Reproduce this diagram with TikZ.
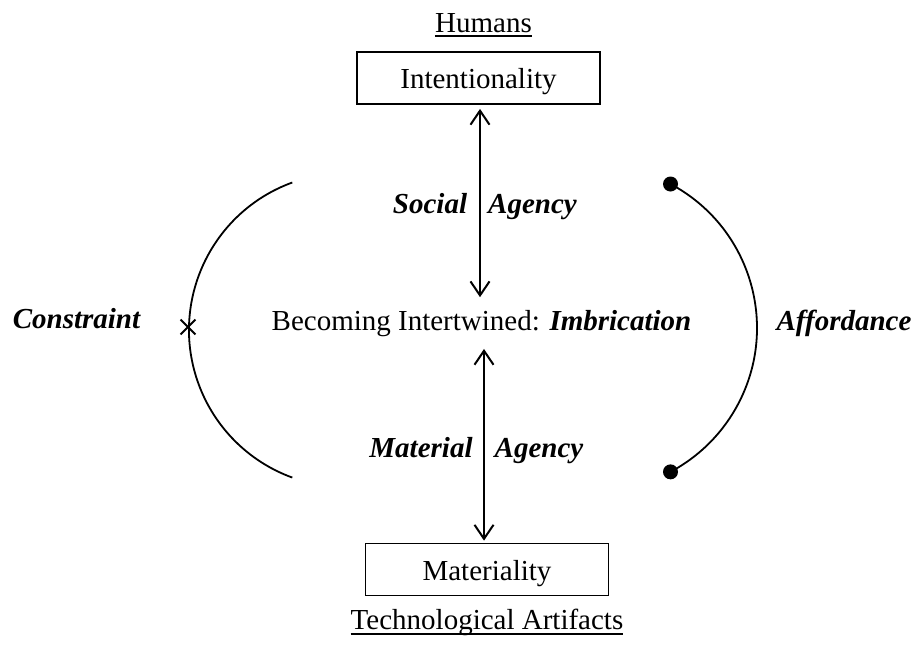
\documentclass[tikz,border=0pt]{standalone}
\usepackage{fontspec}
\setmainfont{Liberation Serif}
\usetikzlibrary{arrows.meta,calc,shapes.misc}
\begin{document}
\begin{tikzpicture}[x=1pt,y=-1pt,
  every node/.style={font=\fontsize{29}{34}\selectfont, inner sep=0pt},
  key/.style={font=\fontsize{29}{34}\selectfont\bfseries\itshape},
  conceptbox/.style={draw, line width=1.8pt, minimum width=243pt, minimum height=52pt,
                     text height=21pt, text depth=0pt},
  link/.style={line width=2pt,
               {Straight Barb[length=14pt,width=19pt]}-{Straight Barb[length=14pt,width=19pt]}},
  curve/.style={line width=1.8pt},
  uline/.style={line width=1.5pt},
  dot/.style={circle, fill, minimum size=15pt},
  mark x/.style={cross out, draw, line width=1.8pt, minimum size=13pt}]
\useasboundingbox (0,0) rectangle (917,646);

% headings
\node[anchor=base] (hum) at (483.5,32) {Humans};
\draw[uline] ($(hum.base west)+(0,4)$) -- ($(hum.base east)+(0,4)$);
\node[anchor=base] (tech) at (487,629) {Technological Artifacts};
\draw[uline] ($(tech.base west)+(0,5)$) -- ($(tech.base east)+(0,5)$);

% the two poles
\node[conceptbox] (intent) at (478.5,78) {Intentionality};
\node[conceptbox] (mat) at (487,569.5) {Materiality};

% centre
\node[anchor=base, inner ysep=12.5pt] (mid) at (481.5,330)
  {Becoming Intertwined: \textbf{\textit{Imbrication}}};

% agencies
\draw[link] ($(intent.south)+(1.5,4)$) -- ($(mid.north)+(-1.5,0)$);
\draw[link] ($(mid.south)+(2.5,0)$) -- ($(mid.south |- mat.north)+(2.5,-2)$);
\node[key, anchor=base] (soc) at (430,213) {Social};
\node[key, anchor=base] (sag) at (532.5,213) {Agency};
\node[key, anchor=base] (matl) at (421,457) {Material};
\node[key, anchor=base] (mag) at (539,457) {Agency};

% constraint arc
\coordinate (ltop) at (292.3,182.5);
\draw[curve] (ltop) arc[start angle=110, end angle=250, radius=157pt] coordinate (lbot);
\node[mark x] (cross) at (188,327) {};
\node[key, anchor=base] (cons) at (76.5,328) {Constraint};

% affordance arc
\coordinate (rtop) at (670.5,184);
\draw[curve] (rtop) arc[start angle=62, end angle=-62, radius=163pt] coordinate (rbot);
\node[dot] (dtop) at (rtop) {};
\node[dot] (dbot) at (rbot) {};
\node[key, anchor=base] (aff) at (844,330) {Affordance};
\end{tikzpicture}
\end{document}
